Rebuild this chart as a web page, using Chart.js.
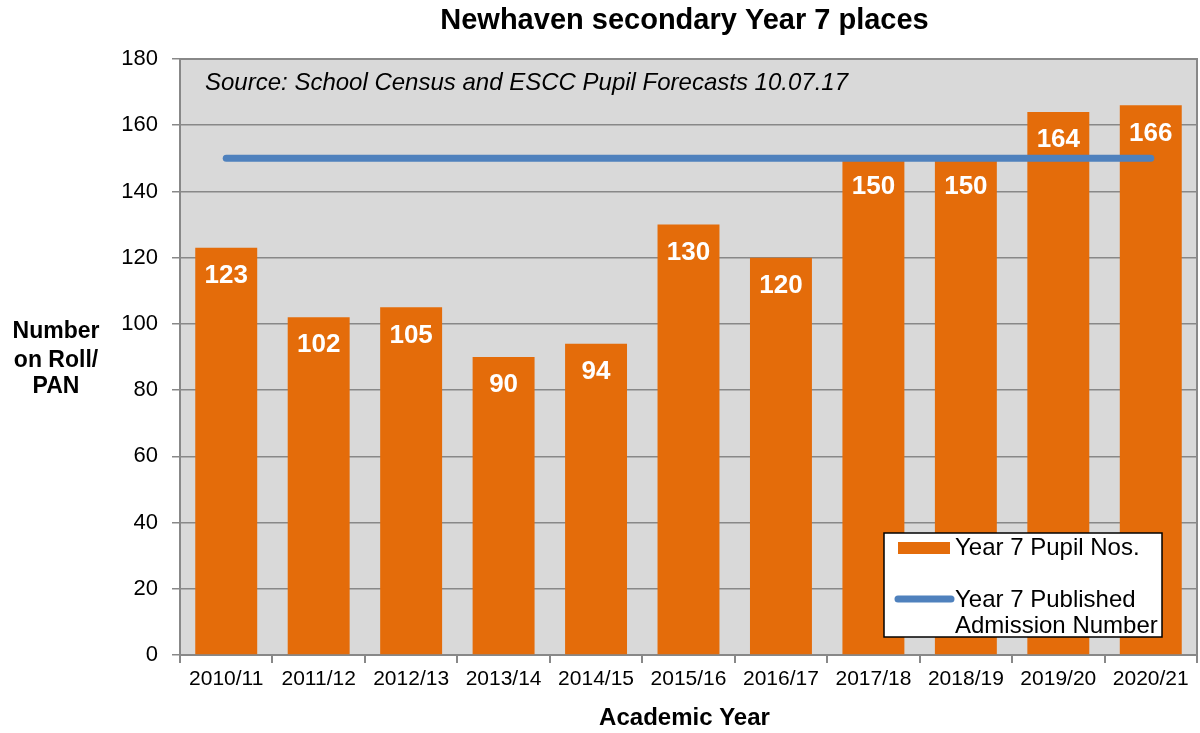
<!DOCTYPE html>
<html>
<head>
<meta charset="utf-8">
<script src="https://cdn.jsdelivr.net/npm/chart.js@4"></script>
<style>
  body { margin: 0; background: #fff; }
  .chart-container { width: 1200px; height: 733px; position: relative; }
</style>
</head>
<body>
<div class="chart-container">
  <canvas id="myChart"></canvas>
</div>
<script>
var years = ['2010/11', '2011/12', '2012/13', '2013/14', '2014/15', '2015/16', '2016/17', '2017/18', '2018/19', '2019/20', '2020/21'];
var pupilNos = [123, 102, 105, 90, 94, 130, 120, 150, 150, 164, 166];
var pan = [150, 150, 150, 150, 150, 150, 150, 150, 150, 150, 150];
var yTicks = [0, 20, 40, 60, 80, 100, 120, 140, 160, 180];

var font = 'Arial, "Liberation Sans", sans-serif';

// grey plot background, titles, labels and the boxed legend
var extras = {
  id: 'extras',
  beforeDraw: function(chart) {
    var ctx = chart.ctx;
    var a = chart.chartArea;
    ctx.save();
    ctx.fillStyle = '#d9d9d9';
    ctx.fillRect(a.left, a.top, a.right - a.left, a.bottom - a.top);
    ctx.strokeStyle = '#888888';
    ctx.lineWidth = 2;
    ctx.beginPath();
    ctx.moveTo(a.left, a.top);
    ctx.lineTo(a.right, a.top);
    ctx.lineTo(a.right, a.bottom);
    ctx.stroke();
    ctx.restore();
  },
  afterDatasetsDraw: function(chart) {
    var ctx = chart.ctx;
    var meta = chart.getDatasetMeta(1);
    ctx.save();
    ctx.fillStyle = '#ffffff';
    ctx.font = 'bold 26px ' + font;
    ctx.textAlign = 'center';
    ctx.textBaseline = 'middle';
    for (var i = 0; i < meta.data.length; i++) {
      var bar = meta.data[i];
      ctx.fillText(pupilNos[i], bar.x, bar.y + 28);
    }
    ctx.restore();
  },
  afterDraw: function(chart) {
    var ctx = chart.ctx;
    var a = chart.chartArea;
    var mid = (a.left + a.right) / 2;
    ctx.save();
    ctx.fillStyle = '#000';
    ctx.textBaseline = 'middle';

    ctx.textAlign = 'center';
    ctx.font = 'bold 29px ' + font;
    ctx.fillText('Newhaven secondary Year 7 places', mid - 4, 21);

    ctx.font = 'bold 24px ' + font;
    ctx.fillText('Academic Year', mid - 4, 718);
    ctx.font = 'bold 23px ' + font;
    ctx.fillText('Number', 56, 332);
    ctx.fillText('on Roll/', 56, 361);
    ctx.fillText('PAN', 56, 387);

    ctx.textAlign = 'left';
    ctx.font = 'italic 24px ' + font;
    ctx.fillText('Source: School Census and ESCC Pupil Forecasts 10.07.17', 205, 83);

    // legend
    ctx.fillStyle = '#fff';
    ctx.fillRect(884, 533, 278, 104);
    ctx.strokeStyle = '#000';
    ctx.lineWidth = 1.5;
    ctx.strokeRect(884, 533, 278, 104);
    ctx.fillStyle = '#e46c0a';
    ctx.fillRect(898, 542, 52, 12);
    ctx.strokeStyle = '#4f81bd';
    ctx.lineWidth = 7;
    ctx.lineCap = 'round';
    ctx.beginPath();
    ctx.moveTo(898, 599);
    ctx.lineTo(951, 599);
    ctx.stroke();
    ctx.fillStyle = '#000';
    ctx.font = '24px ' + font;
    ctx.fillText('Year 7 Pupil Nos.', 955, 548);
    ctx.fillText('Year 7 Published', 955, 600);
    ctx.fillText('Admission Number', 955, 626);
    ctx.restore();
  }
};

var ctx = document.getElementById('myChart');
new Chart(ctx, {
  type: 'bar',
  data: {
    labels: years,
    datasets: [{
      type: 'line',
      label: 'Year 7 Published Admission Number',
      data: pan,
      borderColor: '#4f81bd',
      borderWidth: 7,
      borderCapStyle: 'round',
      pointRadius: 0,
      order: 0
    }, {
      label: 'Year 7 Pupil Nos.',
      data: pupilNos,
      backgroundColor: '#e46c0a',
      categoryPercentage: 1,
      barPercentage: 0.67,
      order: 1
    }]
  },
  options: {
    responsive: true,
    maintainAspectRatio: false,
    animation: false,
    layout: { padding: { top: 59, right: 3, left: 0, bottom: 0 } },
    plugins: {
      legend: { display: false },
      title: { display: false },
      tooltip: { enabled: false }
    },
    scales: {
      x: {
        offset: true,
        afterFit: function(scale) { scale.height = 78; },
        grid: {
          offset: true,
          drawOnChartArea: false,
          tickLength: 8,
          color: '#888888',
          lineWidth: 2
        },
        border: { color: '#888888', width: 2 },
        ticks: { color: '#000', font: { family: font, size: 21 }, padding: 4, maxRotation: 0 }
      },
      y: {
        min: 0,
        max: 180,
        afterFit: function(scale) { scale.width = 180; },
        afterBuildTicks: function(scale) {
          scale.ticks = yTicks.map(function(v) { return { value: v }; });
        },
        grid: { color: '#888888', lineWidth: 1.5, tickLength: 8 },
        border: { color: '#888888', width: 2 },
        ticks: { color: '#000', font: { family: font, size: 22 }, padding: 14 }
      }
    }
  },
  plugins: [extras]
});
</script>
</body>
</html>
